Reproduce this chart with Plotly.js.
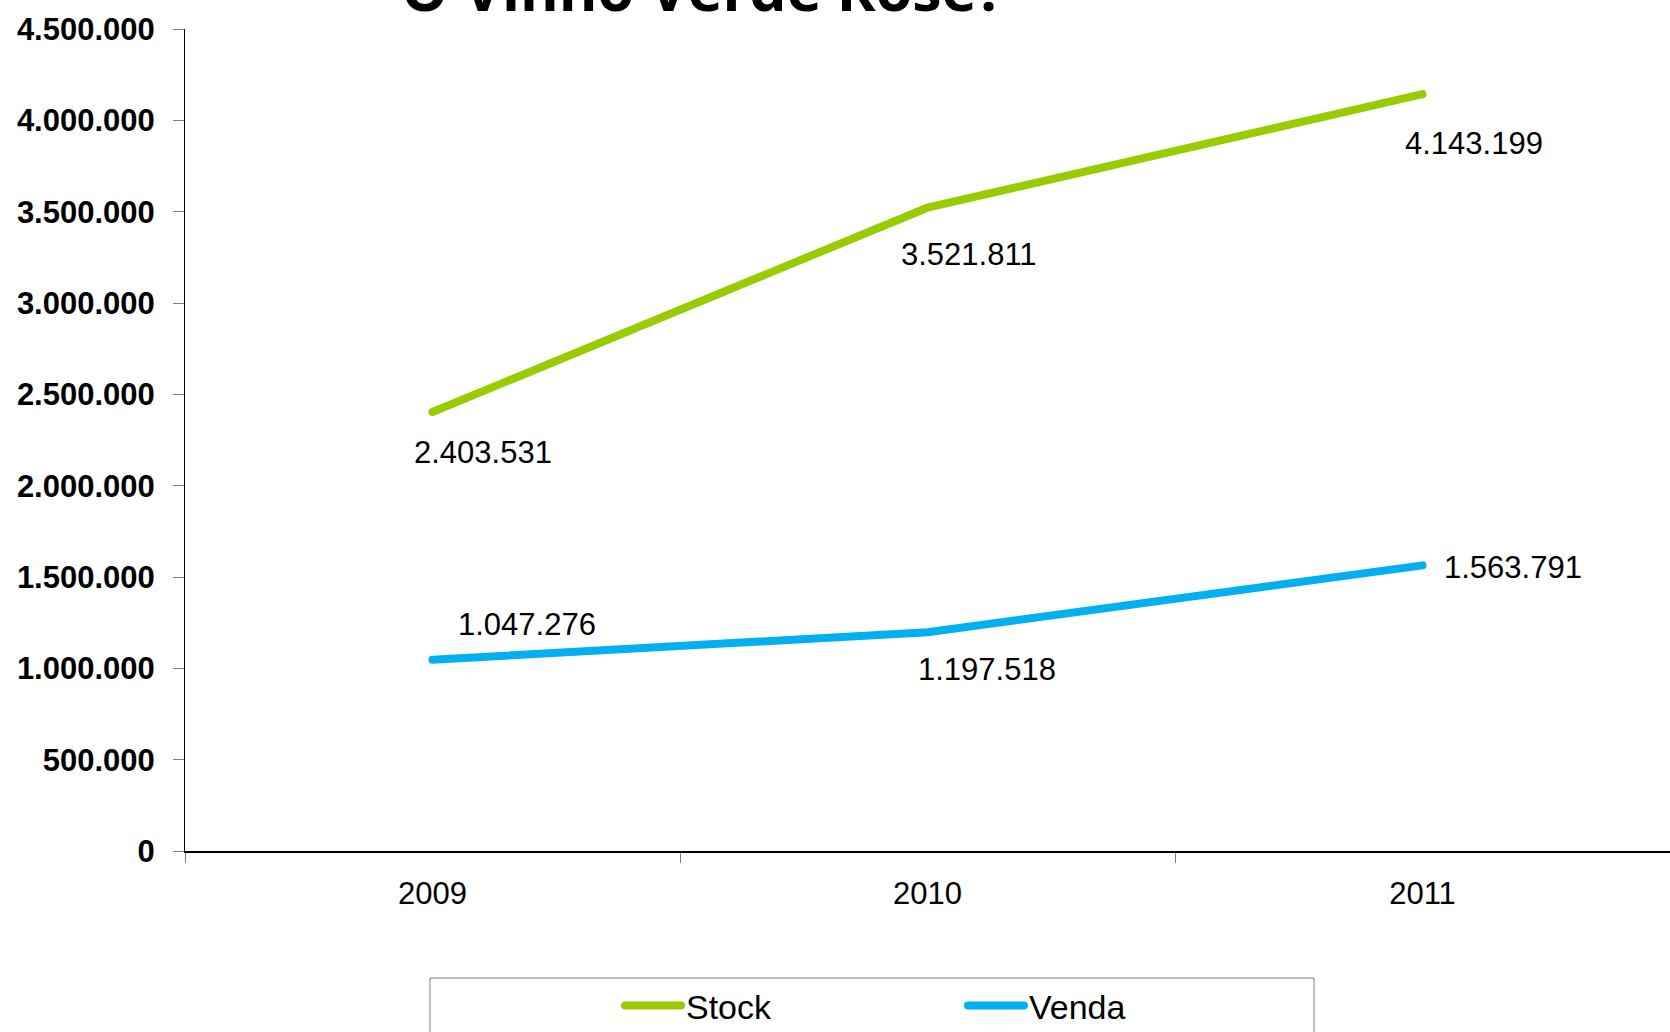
<!DOCTYPE html>
<html>
<head>
<meta charset="utf-8">
<script src="https://cdn.plot.ly/plotly-3.0.1.min.js"></script>
<style>
  html, body { margin: 0; padding: 0; background: #fff; }
  #chart { width: 1670px; height: 1032px; }
  .scatterlayer .js-line, .legendlines path { stroke-linecap: round; }
</style>
</head>
<body>
<div id="chart"></div>
<script>
// ---- Data ----
const years = ['2009', '2010', '2011'];
const stockValues = [2403531, 3521811, 4143199];
const vendaValues = [1047276, 1197518, 1563791];
const seriesNames = ['Stock', 'Venda'];
const chartTitle = 'O Vinho Verde Rosé?';
const yTickValues = [0, 500000, 1000000, 1500000, 2000000, 2500000, 3000000, 3500000, 4000000, 4500000];

// ---- Style ----
const FONT = '"Liberation Sans Narrow", "Arial Narrow", "Liberation Sans", Arial, sans-serif';
const GREEN = '#99CC00';
const BLUE = '#00B0F0';
const stockShift = [[50, -41], [41, -47], [51, -49]];
const vendaShift = [[94, 35], [59, -37], [90, -2]];

function fmt(v) {
  return String(v).replace(/\B(?=(\d{3})+(?!\d))/g, '.');
}

const traces = [
  {
    type: 'scatter', mode: 'lines', name: seriesNames[0],
    x: years, y: stockValues,
    line: { color: GREEN, width: 8 },
    hoverinfo: 'skip'
  },
  {
    type: 'scatter', mode: 'lines', name: seriesNames[1],
    x: years, y: vendaValues,
    line: { color: BLUE, width: 8 },
    hoverinfo: 'skip'
  }
];

const annotations = [];
years.forEach((yr, i) => {
  annotations.push({
    x: i, y: stockValues[i], xref: 'x', yref: 'y',
    text: fmt(stockValues[i]), showarrow: false,
    xshift: stockShift[i][0], yshift: stockShift[i][1],
    font: { family: FONT, size: 31, color: '#000' }
  });
  annotations.push({
    x: i, y: vendaValues[i], xref: 'x', yref: 'y',
    text: fmt(vendaValues[i]), showarrow: false,
    xshift: vendaShift[i][0], yshift: vendaShift[i][1],
    font: { family: FONT, size: 31, color: '#000' }
  });
});

const layout = {
  width: 1670, height: 1032,
  paper_bgcolor: '#fff', plot_bgcolor: '#fff',
  margin: { l: 185, r: 0, t: 29, b: 181, autoexpand: false },
  separators: ',.',
  showlegend: true,
  title: {
    text: '<b>' + chartTitle + '</b>',
    font: { family: '"Open Sans", "Liberation Sans", sans-serif', size: 59, color: '#000' },
    xref: 'container', yref: 'container',
    x: 703 / 1670, xanchor: 'center',
    y: 1 - 11 / 1032, yanchor: 'bottom'
  },
  xaxis: {
    type: 'category',
    range: [-0.5, 2.5],
    showgrid: false, zeroline: false,
    showline: true, linecolor: '#000', linewidth: 2,
    ticks: 'outside', tickson: 'boundaries', ticklen: 10, tickcolor: '#808080', tickwidth: 1,
    tickfont: { family: FONT, size: 31, color: '#000' },
    ticklabelstandoff: 14,
    fixedrange: true
  },
  yaxis: {
    range: [0, 4500000],
    tickvals: yTickValues,
    tickformat: ',d',
    showgrid: false, zeroline: false,
    showline: true, linecolor: '#000', linewidth: 1,
    ticks: 'outside', ticklen: 11, tickcolor: '#808080', tickwidth: 1,
    tickfont: { family: FONT, size: 31, color: '#000', weight: 'bold' },
    ticklabelstandoff: 12,
    fixedrange: true
  },
  legend: {
    orientation: 'h',
    x: (620 - 185) / 1485, xanchor: 'left',
    y: (851 - 1006) / 822, yanchor: 'middle',
    bgcolor: 'rgba(0,0,0,0)', borderwidth: 0,
    font: { family: FONT, size: 34, color: '#000' },
    itemwidth: 56,
    entrywidth: 272,
    tracegroupgap: 0
  },
  shapes: [{
    type: 'rect', xref: 'paper', yref: 'paper',
    x0: (430 - 185) / 1485, x1: (1314 - 185) / 1485,
    y0: (851 - 978) / 822, y1: (851 - 1060) / 822,
    line: { color: '#7f7f7f', width: 1 }, fillcolor: 'rgba(0,0,0,0)',
    layer: 'below'
  }],
  annotations: annotations
};

Plotly.newPlot('chart', traces, layout, { displayModeBar: false, staticPlot: true });
</script>
</body>
</html>
